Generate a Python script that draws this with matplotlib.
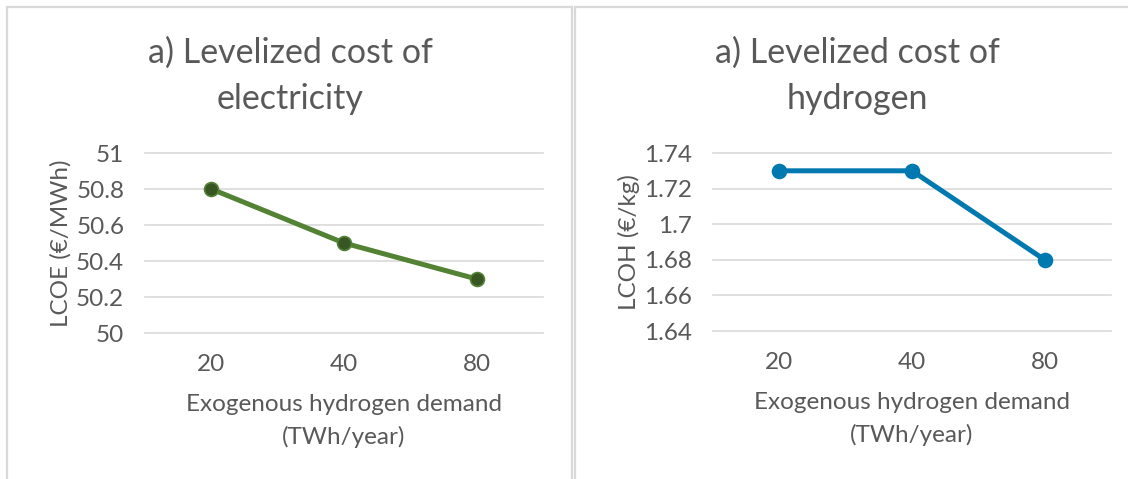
import matplotlib.pyplot as plt
from matplotlib.patches import Rectangle

# data
demand = ['20', '40', '80']
lcoe = [50.8, 50.5, 50.3]
lcoh = [1.73, 1.73, 1.68]
lcoe_ticks = [50, 50.2, 50.4, 50.6, 50.8, 51]
lcoe_labels = ['50', '50.2', '50.4', '50.6', '50.8', '51']
lcoh_ticks = [1.64, 1.66, 1.68, 1.70, 1.72, 1.74]
lcoh_labels = ['1.64', '1.66', '1.68', '1.7', '1.72', '1.74']

plt.rcParams['font.family'] = ['Lato', 'DejaVu Sans']
txt = '#595959'
grid = '#D9D9D9'

W, H = 1128, 479
fig = plt.figure(figsize=(W / 100, H / 100), dpi=100)


def px(x0, y0, x1, y1):
    # convert pixel box (top-left origin) to figure fraction
    return [x0 / W, 1 - y1 / H, (x1 - x0) / W, (y1 - y0) / H]


# panel borders
fig.patches.append(Rectangle((7 / W, -0.05), (572 - 7) / W, 1 - 7 / H + 0.05,
                             transform=fig.transFigure, fill=False,
                             edgecolor=grid, linewidth=1.6))
fig.patches.append(Rectangle((575 / W, -0.05), 0.6, 1 - 7 / H + 0.05,
                             transform=fig.transFigure, fill=False,
                             edgecolor=grid, linewidth=1.6))


def panel(box, values, ticks, labels, color, mface, ylabel, title, cx):
    ax = fig.add_axes(px(*box))
    x = range(len(demand))
    ax.plot(x, values, color=color, lw=3.6, marker='o', ms=10,
            mfc=mface, mec=color, mew=1.2, zorder=3, solid_capstyle='round')
    ax.set_xlim(-0.5, len(demand) - 0.5)
    ax.set_ylim(ticks[0], ticks[-1])
    ax.set_yticks(ticks)
    ax.set_yticklabels(labels)
    ax.set_xticks(list(x))
    ax.set_xticklabels(demand)
    for t in ticks:
        ax.axhline(t, color=grid, lw=1.2, zorder=1, clip_on=False)
    for s in ax.spines.values():
        s.set_visible(False)
    ax.tick_params(length=0, labelsize=17.5, colors=txt)
    ax.tick_params(axis='y', pad=15)
    ax.tick_params(axis='x', pad=15)
    ax.set_xlabel('Exogenous hydrogen demand\n(TWh/year)', fontsize=17.5,
                  color=txt, labelpad=14, linespacing=1.6)
    ax.set_ylabel(ylabel, fontsize=17.5, color=txt, labelpad=3)
    fig.text(cx / W, 1 - 76 / H, title, ha='center', va='center',
             fontsize=24.5, color=txt, linespacing=1.55)
    return ax


panel((145, 153, 543, 333), lcoe, lcoe_ticks, lcoe_labels, '#548235', '#375623',
      'LCOE (€/MWh)', 'a) Levelized cost of\nelectricity', 290)
panel((713, 153, 1111, 331), lcoh, lcoh_ticks, lcoh_labels, '#0079B0', '#0079B0',
      'LCOH (€/kg)', 'a) Levelized cost of\nhydrogen', 857)

fig.savefig('out.png', dpi=100)
